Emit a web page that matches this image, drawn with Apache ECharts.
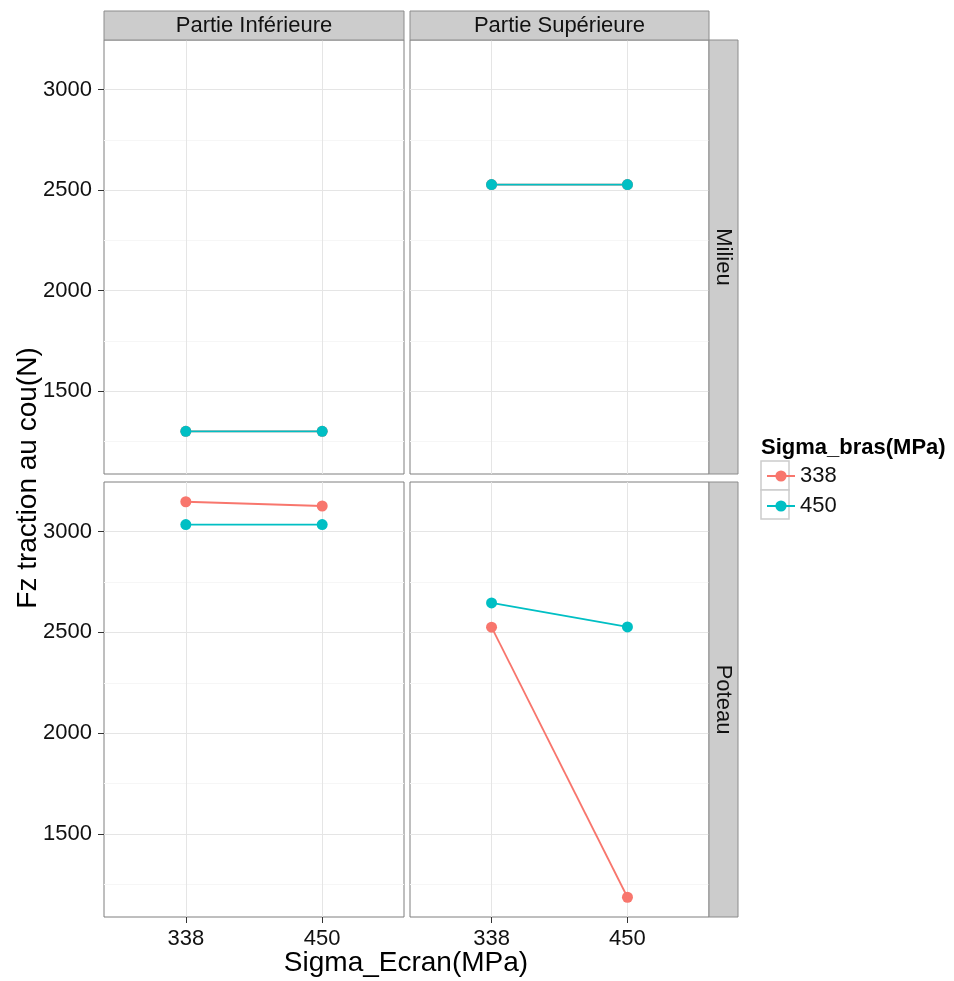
<!DOCTYPE html>
<html>
<head>
<meta charset="utf-8">
<script src="https://cdn.jsdelivr.net/npm/echarts@6/dist/echarts.min.js"></script>
<style>
html,body{margin:0;padding:0;background:#fff;}
#chart{width:954px;height:981px;}
</style>
</head>
<body>
<div id="chart"></div>
<script>
// ---- data ----
const xValues = [338, 450];                 // Sigma_Ecran(MPa)
const seriesNames = ['338', '450'];         // Sigma_bras(MPa)
const colNames = ['Partie Inférieure', 'Partie Supérieure'];
const rowNames = ['Milieu', 'Poteau'];
const yTicks = [1500, 2000, 2500, 3000];
const yMinorTicks = [1250, 1750, 2250, 2750];

const milieuInf338 = [1300, 1300];
const milieuInf450 = [1300, 1300];
const milieuSup338 = [2527, 2527];
const milieuSup450 = [2527, 2527];
const poteauInf338 = [3148, 3127];
const poteauInf450 = [3035, 3035];
const poteauSup338 = [2526, 1186];
const poteauSup450 = [2646, 2527];

const panelData = [
  [milieuInf338, milieuInf450],
  [milieuSup338, milieuSup450],
  [poteauInf338, poteauInf450],
  [poteauSup338, poteauSup450]
];

const colors = ['#F8766D', '#00BFC4'];
const FONT = 'Liberation Sans, Arial, sans-serif';

// ---- layout ----
const colLeft = [104, 410];
const colWidth = [300, 299];
const rowTop = [40, 482];
const rowHeight = [434, 435];
const yMin = 1088, yMax = 3246;
const xMin = 338 - 0.6 * 112, xMax = 450 + 0.6 * 112;

const grids = [], xAxes = [], yAxes = [], series = [];
for (let r = 0; r < 2; r++) {
  for (let c = 0; c < 2; c++) {
    const gi = r * 2 + c;
    grids.push({
      left: colLeft[c], top: rowTop[r], width: colWidth[c], height: rowHeight[r],
      show: true, borderColor: '#7F7F7F', borderWidth: 1, backgroundColor: '#fff'
    });
    const bottomRow = r === 1;
    xAxes.push({
      type: 'value', gridIndex: gi, min: xMin, max: xMax,
      axisLine: { show: false },
      axisTick: { show: bottomRow, customValues: xValues, length: 6, lineStyle: { color: '#333', width: 1 } },
      axisLabel: { show: bottomRow, customValues: xValues, margin: 11, fontSize: 22, color: '#111', fontFamily: FONT,
                   formatter: v => String(v) },
      splitLine: { show: true, lineStyle: { color: '#E5E5E5', width: 1 } }
    });
    const leftCol = c === 0;
    yAxes.push({
      type: 'value', gridIndex: gi, min: yMin, max: yMax,
      axisLine: { show: false },
      axisTick: { show: leftCol, customValues: yTicks, length: 6, lineStyle: { color: '#333', width: 1 } },
      axisLabel: { show: leftCol, customValues: yTicks, margin: 12, fontSize: 22, color: '#111', fontFamily: FONT,
                   formatter: v => String(v) },
      splitLine: { show: true, lineStyle: { color: '#E5E5E5', width: 1 } }
    });
    // minor grid lines
    yAxes.push({
      type: 'value', gridIndex: gi, min: yMin, max: yMax,
      axisLine: { show: false },
      axisTick: { show: false, customValues: yMinorTicks },
      axisLabel: { show: false, customValues: yMinorTicks },
      splitLine: { show: true, lineStyle: { color: '#F6F6F6', width: 1.2 } }
    });
    for (let s = 0; s < 2; s++) {
      series.push({
        type: 'line', name: seriesNames[s], xAxisIndex: gi, yAxisIndex: gi * 2,
        data: xValues.map((x, i) => [x, panelData[gi][s][i]]),
        symbol: 'circle', symbolSize: 11,
        lineStyle: { color: colors[s], width: 1.8 },
        itemStyle: { color: colors[s] },
        z: 2 + s,
        emphasis: { disabled: true }
      });
    }
  }
}

const graphics = [];
// top strips
for (let c = 0; c < 2; c++) {
  graphics.push({
    type: 'rect', z: 1,
    shape: { x: colLeft[c], y: 11, width: colWidth[c], height: 29 },
    style: { fill: '#CCCCCC', stroke: '#8C8C8C', lineWidth: 1 }
  });
  graphics.push({
    type: 'text', z: 2, x: colLeft[c] + colWidth[c] / 2, y: 25.5,
    style: { text: colNames[c], fontSize: 22, fontFamily: FONT, fill: '#111', align: 'center', verticalAlign: 'middle' }
  });
}
// right strips
for (let r = 0; r < 2; r++) {
  graphics.push({
    type: 'rect', z: 1,
    shape: { x: 709, y: rowTop[r], width: 29, height: rowHeight[r] },
    style: { fill: '#CCCCCC', stroke: '#8C8C8C', lineWidth: 1 }
  });
  graphics.push({
    type: 'text', z: 2, x: 723.5, y: rowTop[r] + rowHeight[r] / 2, rotation: -Math.PI / 2,
    style: { text: rowNames[r], fontSize: 22, fontFamily: FONT, fill: '#111', align: 'center', verticalAlign: 'middle' }
  });
}
// axis titles
graphics.push({
  type: 'text', x: 406, y: 963,
  style: { text: 'Sigma_Ecran(MPa)', fontSize: 28, fontFamily: FONT, fill: '#000', align: 'center', verticalAlign: 'middle' }
});
graphics.push({
  type: 'text', x: 28, y: 478, rotation: Math.PI / 2,
  style: { text: 'Fz traction au cou(N)', fontSize: 28, fontFamily: FONT, fill: '#000', align: 'center', verticalAlign: 'middle' }
});
// legend
graphics.push({
  type: 'text', x: 761, y: 448,
  style: { text: 'Sigma_bras(MPa)', fontSize: 22, fontWeight: 'bold', fontFamily: FONT, fill: '#000', align: 'left', verticalAlign: 'middle' }
});
for (let s = 0; s < 2; s++) {
  graphics.push({
    type: 'rect', z: 0,
    shape: { x: 761, y: 461 + s * 29, width: 28, height: 29 },
    style: { fill: '#fff', stroke: '#CCCCCC', lineWidth: 1.5 }
  });
}

const chart = echarts.init(document.getElementById('chart'), null, { renderer: 'canvas' });
chart.setOption({
  animation: false,
  backgroundColor: '#fff',
  grid: grids,
  xAxis: xAxes,
  yAxis: yAxes,
  series: series,
  legend: {
    data: seriesNames, orient: 'vertical', left: 761, top: 460,
    itemWidth: 28, itemHeight: 14, itemGap: 8, z: 10,
    textStyle: { fontSize: 22, color: '#111', fontFamily: FONT },
    selectedMode: false
  },
  graphic: graphics
});
</script>
</body>
</html>
